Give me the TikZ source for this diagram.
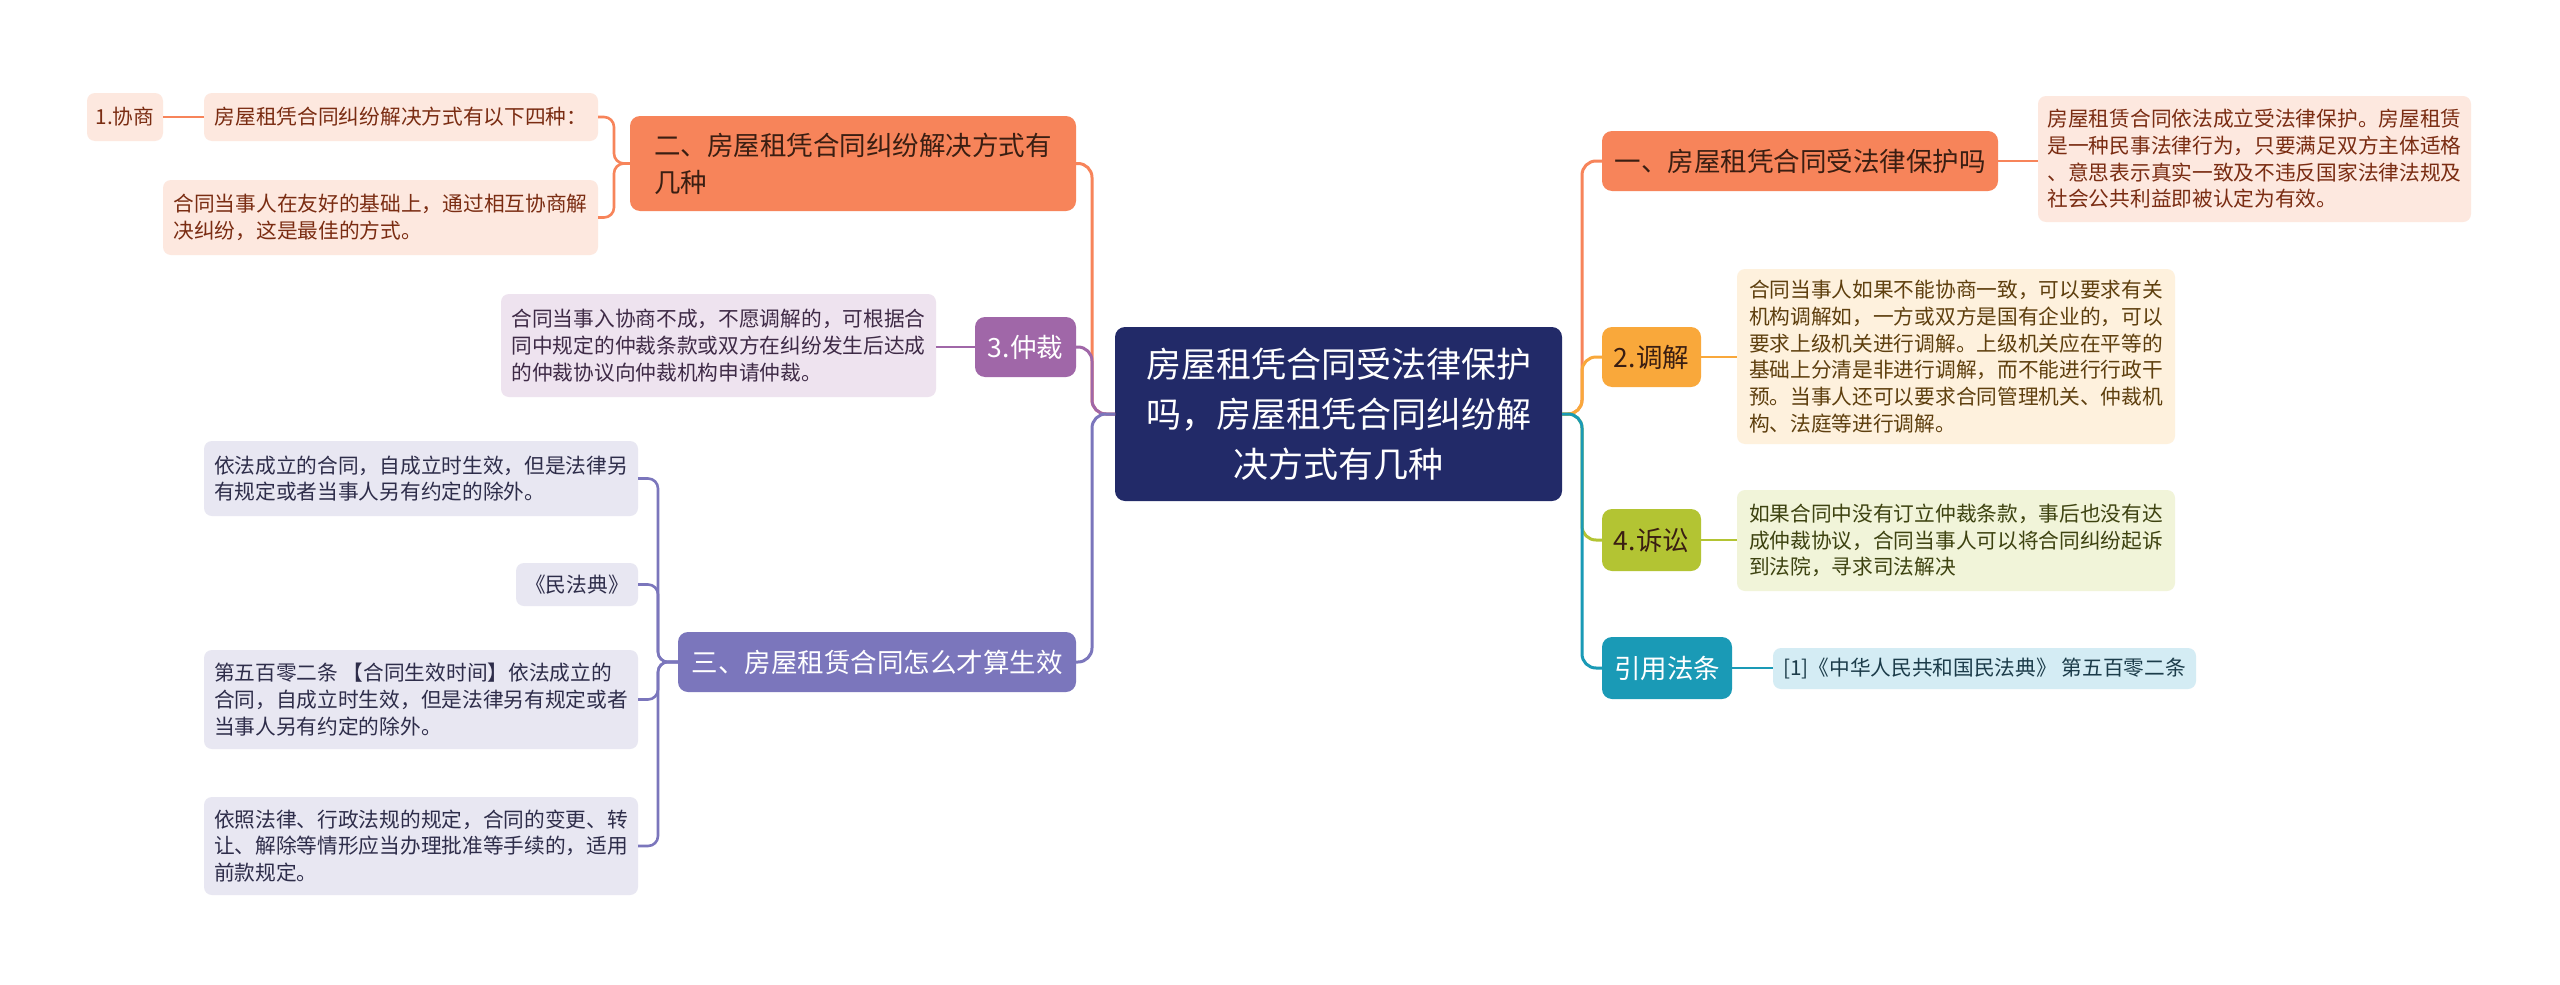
\documentclass[tikz,border=0pt]{standalone}
\usepackage{fontspec}
\setmainfont{Noto Sans CJK SC}
\usetikzlibrary{calc}
\definecolor{cNavy}{HTML}{222A68}
\definecolor{cOrange}{HTML}{F7845A}
\definecolor{cAmber}{HTML}{F9A83B}
\definecolor{cPurple}{HTML}{A067A8}
\definecolor{cOlive}{HTML}{B3C433}
\definecolor{cSlate}{HTML}{7B76BC}
\definecolor{cTeal}{HTML}{1A9AB6}
\definecolor{lOrange}{HTML}{FDE8DF}
\definecolor{lAmber}{HTML}{FEF1DD}
\definecolor{lPurple}{HTML}{EEE3EF}
\definecolor{lOlive}{HTML}{F1F4D9}
\definecolor{lSlate}{HTML}{E8E7F2}
\definecolor{lTeal}{HTML}{D4ECF4}
\definecolor{tOrange}{HTML}{7A2C12}
\definecolor{tAmber}{HTML}{5E3F0E}
\definecolor{tPurple}{HTML}{3E2A46}
\definecolor{tOlive}{HTML}{3D4210}
\definecolor{tSlate}{HTML}{2E2D4A}
\definecolor{tTeal}{HTML}{1C3C4A}
\definecolor{tDark}{HTML}{3A1E12}
\tikzset{
  box/.style={rounded corners=8pt, inner sep=0pt, outer sep=0pt, align=left},
  mainbox/.style={box, rounded corners=10pt, font=\fontsize{26.5}{37}\selectfont},
  leaf/.style={box, font=\fontsize{20.7}{26.7}\selectfont},
  conn/.style={line width=3pt, rounded corners=14pt},
  subconn/.style={line width=2.6pt, rounded corners=10pt},
}
\begin{document}
\begin{tikzpicture}[x=1pt, y=-1pt]
\useasboundingbox (0,0) rectangle (2560,985);
\fill[white] (0,0) rectangle (2560,985);

% centre
\node[box, rounded corners=10pt, fill=cNavy, text=white, align=center,
  font=\fontsize{35}{50}\selectfont, minimum width=447, minimum height=174]
  (center) at (1338.5,414) {房屋租凭合同受法律保护\\吗，房屋租凭合同纠纷解\\决方式有几种};

% left main nodes
\node[mainbox, fill=cOrange, text=tDark, minimum width=446, minimum height=95]
  (er) at (853,163.5) {二、房屋租凭合同纠纷解决方式有\\几种};
\node[mainbox, fill=cPurple, text=white, minimum width=101, minimum height=60]
  (zc) at (1025.5,347) {3.仲裁};
\node[mainbox, fill=cSlate, text=white, minimum width=398, minimum height=60]
  (san) at (877,662) {三、房屋租赁合同怎么才算生效};

% left leaves
\node[leaf, fill=lOrange, text=tOrange, minimum width=394, minimum height=48]
  (era) at (401,117) {房屋租凭合同纠纷解决方式有以下四种：};
\node[leaf, fill=lOrange, text=tOrange, minimum width=76, minimum height=48]
  (xs) at (125,117) {1.协商};
\node[leaf, fill=lOrange, text=tOrange, minimum width=435, minimum height=75]
  (erb) at (380.5,217.5) {合同当事人在友好的基础上，通过相互协商解\\决纠纷，这是最佳的方式。};
\node[leaf, fill=lPurple, text=tPurple, minimum width=435, minimum height=103]
  (zca) at (718.5,345.5) {合同当事入协商不成，不愿调解的，可根据合\\同中规定的仲裁条款或双方在纠纷发生后达成\\的仲裁协议向仲裁机构申请仲裁。};
\node[leaf, fill=lSlate, text=tSlate, minimum width=434, minimum height=75]
  (sa) at (421,478.5) {依法成立的合同，自成立时生效，但是法律另\\有规定或者当事人另有约定的除外。};
\node[leaf, fill=lSlate, text=tSlate, minimum width=122, minimum height=43]
  (sb) at (577,584.5) {《民法典》};
\node[leaf, fill=lSlate, text=tSlate, minimum width=434, minimum height=99]
  (sc) at (421,699.5) {第五百零二条 【合同生效时间】依法成立的\\合同，自成立时生效，但是法律另有规定或者\\当事人另有约定的除外。};
\node[leaf, fill=lSlate, text=tSlate, minimum width=434, minimum height=98]
  (sd) at (421,846) {依照法律、行政法规的规定，合同的变更、转\\让、解除等情形应当办理批准等手续的，适用\\前款规定。};

% right main nodes
\node[mainbox, fill=cOrange, text=tDark, minimum width=396, minimum height=60]
  (yi) at (1800,161) {一、房屋租凭合同受法律保护吗};
\node[mainbox, fill=cAmber, text=tDark, minimum width=99, minimum height=60]
  (tj) at (1651.5,357) {2.调解};
\node[mainbox, fill=cOlive, text=tDark, minimum width=99, minimum height=62]
  (ss) at (1651.5,540) {4.诉讼};
\node[mainbox, fill=cTeal, text=white, minimum width=130, minimum height=62]
  (yy) at (1667,668) {引用法条};

% right leaves
\node[leaf, fill=lOrange, text=tOrange, minimum width=433, minimum height=126]
  (yia) at (2254.5,159) {房屋租赁合同依法成立受法律保护。房屋租赁\\是一种民事法律行为，只要满足双方主体适格\\、意思表示真实一致及不违反国家法律法规及\\社会公共利益即被认定为有效。};
\node[leaf, fill=lAmber, text=tAmber, minimum width=438, minimum height=175]
  (tja) at (1956,356.5) {合同当事人如果不能协商一致，可以要求有关\\机构调解如，一方或双方是国有企业的，可以\\要求上级机关进行调解。上级机关应在平等的\\基础上分清是非进行调解，而不能进行行政干\\预。当事人还可以要求合同管理机关、仲裁机\\构、法庭等进行调解。};
\node[leaf, fill=lOlive, text=tOlive, minimum width=438, minimum height=101]
  (ssa) at (1956,540.5) {如果合同中没有订立仲裁条款，事后也没有达\\成仲裁协议，合同当事人可以将合同纠纷起诉\\到法院，寻求司法解决};
\node[leaf, fill=lTeal, text=tTeal, minimum width=423, minimum height=41]
  (yya) at (1984.5,668.5) {[1]《中华人民共和国民法典》 第五百零二条};

% spine coordinates
\coordinate (L) at (1092,414);
\coordinate (R) at (1582,414);
\coordinate (Ler) at (614,163.5);
\coordinate (Lsan) at (658,662);

% left main connectors
\draw[conn, cOrange] (center.west) -- (L) |- (er.east);
\draw[conn, cPurple] (center.west) -- (L) |- (zc.east);
\draw[conn, cSlate] (center.west) -- (L) |- (san.east);

% right main connectors
\draw[conn, cOrange] (center.east) -- (R) |- (yi.west);
\draw[conn, cAmber] (center.east) -- (R) |- (tj.west);
\draw[conn, cOlive] (center.east) -- (R) |- (ss.west);
\draw[conn, cTeal] (center.east) -- (R) |- (yy.west);

% sub connectors
\draw[subconn, cOrange] (er.west) -- (Ler) |- (era.east);
\draw[subconn, cOrange] (er.west) -- (Ler) |- (erb.east);
\draw[subconn, cOrange] (era.west) -- (era.west -| xs.east);
\draw[subconn, cPurple] (zc.west) -- (zc.west -| zca.east);
\draw[subconn, cSlate] (san.west) -- (Lsan) |- (sa.east);
\draw[subconn, cSlate] (san.west) -- (Lsan) |- (sb.east);
\draw[subconn, cSlate] (san.west) -- (Lsan) |- (sc.east);
\draw[subconn, cSlate] (san.west) -- (Lsan) |- (sd.east);
\draw[subconn, cOrange] (yi.east) -- (yi.east -| yia.west);
\draw[subconn, cAmber] (tj.east) -- (tj.east -| tja.west);
\draw[subconn, cOlive] (ss.east) -- (ss.east -| ssa.west);
\draw[subconn, cTeal] (yy.east) -- (yy.east -| yya.west);
\end{tikzpicture}
\end{document}
